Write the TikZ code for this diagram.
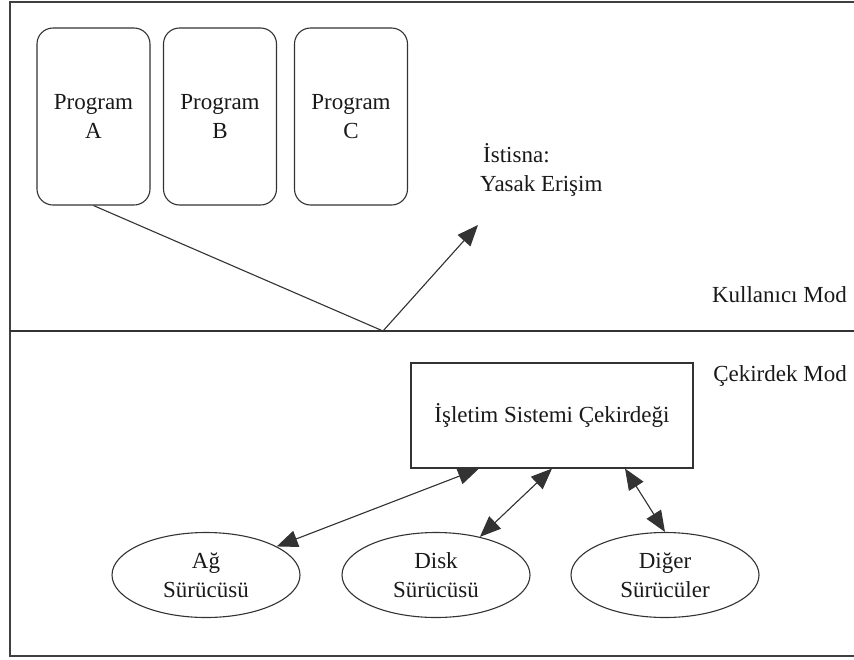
\documentclass[tikz,border=0pt]{standalone}
\usepackage{fontspec}
\setmainfont{Liberation Serif}
\usetikzlibrary{arrows.meta,shapes.geometric}
\begin{document}
\begin{tikzpicture}[x=1pt,y=-1pt,
  every node/.style={font=\fontsize{23}{28.5}\selectfont, inner sep=0pt, text=black!90},
  line/.style={draw=black!80, line width=1.1pt},
  frame/.style={draw=black!75, line width=1.6pt},
  progbox/.style={line, rectangle, rounded corners=16pt, minimum width=113pt, minimum height=177pt, align=center},
  kernelbox/.style={line, rectangle, minimum width=282pt, minimum height=105pt},
  driver/.style={line, ellipse, minimum width=188pt, minimum height=85pt, align=center},
  oneway/.style={arrows={-Triangle[length=21pt,width=17pt]}},
  duplex/.style={arrows={Triangle[length=21pt,width=17pt]-Triangle[length=21pt,width=17pt]}}
]
% canvas
\fill[white] (0,0) rectangle (854,659);
\useasboundingbox (0,0) rectangle (854,659);

% outer frame and the user/kernel boundary
\draw[frame] (854,2) -- (10,2) -- (10,656) -- (854,656);
\draw[line] (10,331) -- (854,331);

% user-mode programs
\node[progbox] (pa) at (93.5,116.5) {Program\\A};
\node[progbox] (pb) at (220,116.5) {Program\\B};
\node[progbox] (pc) at (351,116.5) {Program\\C};

% forbidden access bouncing off the boundary
\coordinate (hit) at (383,331);
\coordinate (exc) at (478,225);
\node[anchor=west, align=left] (note) at (480,170) {\hspace{3pt}İstisna:\\Yasak Erişim};

% mode labels
\node[anchor=base east] (umode) at (847,302) {Kullanıcı Mod};
\node[anchor=base east] (kmode) at (847,381) {Çekirdek Mod};

% kernel and drivers
\node[kernelbox] (kern) at (552,415.5) {İşletim Sistemi Çekirdeği};
\node[driver] (net) at (206,575) {Ağ\\Sürücüsü};
\node[driver] (disk) at (436,575) {Disk\\Sürücüsü};
\node[driver] (other) at (665,575) {Diğer\\Sürücüler};

% connectors
\draw[line] (pa.south) -- (hit);
\draw[line, oneway, fill=black!80] (hit) -- (exc);
\draw[line, duplex, fill=black!80] (net.22) -- (kern.216);
\draw[line, duplex, fill=black!80] (disk.41) -- (kern.270);
\draw[line, duplex, fill=black!80] (other.90) -- (kern.324);
\end{tikzpicture}
\end{document}
